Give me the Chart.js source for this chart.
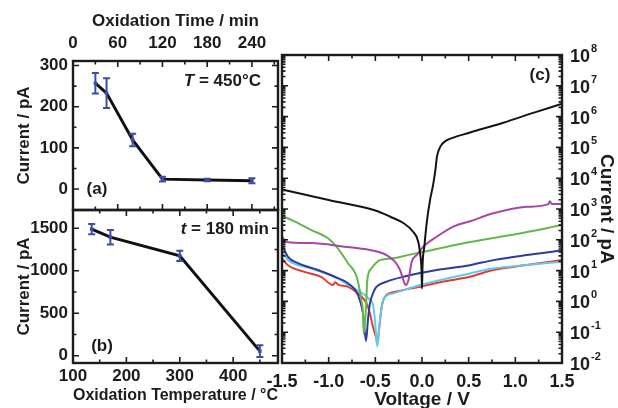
<!DOCTYPE html>
<html>
<head>
<meta charset="utf-8">
<script src="https://cdn.jsdelivr.net/npm/chart.js@4.4.1/dist/chart.umd.min.js"></script>
<style>
  html, body { margin: 0; padding: 0; background: #fff; }
  #wrap { position: relative; width: 618px; height: 408px; overflow: hidden; }
  #wrap canvas { position: absolute; left: 0; top: 0; }
</style>
</head>
<body>
<div id="wrap">
  <canvas id="chartA" width="618" height="408"></canvas>
  <canvas id="chartB" width="618" height="408"></canvas>
  <canvas id="chartC" width="618" height="408"></canvas>
</div>
<script>
// panel (a): current vs oxidation time, T = 450 °C
const timeMin = [30, 45, 80, 120, 180, 240];
const currentA = [257, 233, 119, 24, 22, 20];
const errA = [25, 36, 15, 6, 3, 6];
const timeTicks = [0, 60, 120, 180, 240];
const currentATicks = [0, 100, 200, 300];

// panel (b): current vs oxidation temperature, t = 180 min
const tempC = [135, 170, 300, 450];
const currentB = [1490, 1395, 1175, 55];
const errB = [60, 85, 60, 70];
const tempTicks = [100, 200, 300, 400];
const currentBTicks = [0, 500, 1000, 1500];

// panel (c): I-V curves, current in pA (log scale)
const voltTicks = [-1.5, -1.0, -0.5, 0.0, 0.5, 1.0, 1.5];
const powerTicks = [-2, -1, 0, 1, 2, 3, 4, 5, 6, 7, 8];

const vBlack = [-1.5, -1.0, -0.5, -0.34, -0.2, -0.1, -0.04, -0.02, -0.006, 0.0, 0.006, 0.025, 0.05, 0.086, 0.12, 0.145, 0.16, 0.2, 0.25, 0.32, 0.5, 0.87, 1.2, 1.5];
const iBlack = [4300, 1950, 890, 560, 350, 190, 87, 36, 12, 2.6, 15, 60, 350, 1950, 6300, 2.0e4, 5.0e4, 1.1e5, 1.6e5, 2.0e5, 2.95e5, 6.3e5, 1.35e6, 2.6e6];

const vMagenta = [-1.5, -1.45, -1.19, -0.83, -0.557, -0.47, -0.38, -0.29, -0.236, -0.2, -0.175, -0.146, -0.11, -0.057, 0.014, 0.157, 0.336, 0.514, 0.764, 1.12, 1.35, 1.37, 1.39, 1.5];
const iMagenta = [126, 85, 78, 60, 47, 41, 32, 19.5, 10.5, 4.9, 3.4, 4.9, 19.5, 32, 60, 126, 269, 398, 724, 1175, 1410, 1780, 1445, 1445];

const vGreen = [-1.5, -1.36, -1.19, -1.007, -0.9, -0.793, -0.7, -0.65, -0.632, -0.625, -0.6, -0.586, -0.543, -0.45, -0.307, -0.129, 0.0, 0.5, 1.0, 1.5];
const iGreen = [600, 390, 210, 112, 52, 17.4, 6.3, 1.12, 0.41, 0.089, 0.63, 4.9, 11.7, 21.9, 25, 33, 40, 83, 151, 300];

const vBlue = [-1.5, -1.436, -1.33, -1.114, -0.936, -0.793, -0.686, -0.632, -0.6, -0.579, -0.56, -0.52, -0.486, -0.379, -0.2, 0.157, 0.514, 0.764, 1.12, 1.5];
const iBlue = [68, 28, 17.4, 10.5, 6.3, 3.9, 1.62, 0.41, 0.052, 0.25, 0.79, 2.0, 3.0, 4.4, 6.3, 10.5, 15, 21.9, 32, 45];

const vCyan = [-1.5, -1.436, -1.19, -0.936, -0.757, -0.614, -0.557, -0.525, -0.504, -0.479, -0.45, -0.415, -0.307, -0.021, 0.514, 0.764, 1.12, 1.5];
const iCyan = [41, 22, 11.7, 6.3, 3.0, 1.62, 1.12, 0.79, 0.25, 0.034, 0.25, 1.12, 1.82, 3.4, 8.1, 11.7, 15.1, 19.5];

const vRed = [-1.5, -1.436, -1.26, -1.08, -0.954, -0.93, -0.9, -0.793, -0.686, -0.579, -0.525, -0.49, -0.479, -0.46, -0.432, -0.396, -0.271, -0.021, 0.229, 0.514, 0.764, 1.12, 1.5];
const iRed = [25, 15, 9.1, 6.3, 3.4, 4.2, 3.5, 3.0, 1.8, 0.68, 0.15, 0.063, 0.044, 0.126, 0.68, 1.41, 2.1, 3.0, 4.4, 6.3, 10.5, 15.1, 21.9];

const FONT = "'Liberation Sans', Arial, Helvetica, sans-serif";
const INK = '#1c1c1c';
const BAR_BLUE = '#3a4ea8';

Chart.defaults.font.family = FONT;
Chart.defaults.font.weight = 'bold';
Chart.defaults.font.size = 17;
Chart.defaults.color = INK;

const pts = (xs, ys) => xs.map((x, i) => ({ x: x, y: ys[i] }));
const fixTicks = arr => scale => { scale.ticks = arr.map(v => ({ value: v })); };
const noGrid = { display: false, drawTicks: false };

// box around the plot area with inward tick marks on all four sides
function frame(xId, yId, t) {
  return {
    id: 'frame',
    afterDatasetsDraw(chart) {
      const { ctx, chartArea: a } = chart;
      const xs = chart.scales[xId], ys = chart.scales[yId];
      ctx.save();
      ctx.strokeStyle = INK;
      ctx.lineWidth = 1.6;
      ctx.beginPath();
      const xt = (vals, len) => vals.forEach(v => {
        const p = xs.getPixelForValue(v);
        ctx.moveTo(p, a.top); ctx.lineTo(p, a.top + len);
        ctx.moveTo(p, a.bottom); ctx.lineTo(p, a.bottom - len);
      });
      const yt = (vals, len) => vals.forEach(v => {
        const p = ys.getPixelForValue(v);
        ctx.moveTo(a.left, p); ctx.lineTo(a.left + len, p);
        ctx.moveTo(a.right, p); ctx.lineTo(a.right - len, p);
      });
      xt(t.xMajor, 6); xt(t.xMinor, 3.5);
      yt(t.yMajor, 6); yt(t.yMinor, 3.5);
      ctx.stroke();
      ctx.lineWidth = 2.4;
      ctx.strokeRect(a.left, a.top, a.right - a.left, a.bottom - a.top);
      ctx.restore();
    }
  };
}

function errorBars(xId, yId, xs, ys, errs) {
  return {
    id: 'errorBars',
    afterDatasetsDraw(chart) {
      const ctx = chart.ctx;
      const sx = chart.scales[xId], sy = chart.scales[yId];
      ctx.save();
      ctx.strokeStyle = BAR_BLUE;
      ctx.lineWidth = 2;
      ctx.beginPath();
      xs.forEach((x, i) => {
        const px = sx.getPixelForValue(x);
        const top = sy.getPixelForValue(ys[i] + errs[i]);
        const bot = sy.getPixelForValue(ys[i] - errs[i]);
        ctx.moveTo(px, top); ctx.lineTo(px, bot);
        ctx.moveTo(px - 3.5, top); ctx.lineTo(px + 3.5, top);
        ctx.moveTo(px - 3.5, bot); ctx.lineTo(px + 3.5, bot);
      });
      ctx.stroke();
      ctx.restore();
    }
  };
}

// small text notes inside a panel, items = [{x, y, align, parts:[{text, italic}]}]
function notes(items) {
  return {
    id: 'notes',
    afterDraw(chart) {
      const ctx = chart.ctx;
      ctx.save();
      ctx.fillStyle = INK;
      ctx.textBaseline = 'middle';
      ctx.textAlign = 'left';
      items.forEach(it => {
        const fontOf = p => (p.italic ? 'italic ' : '') + 'bold 17px ' + FONT;
        let total = 0;
        it.parts.forEach(p => { ctx.font = fontOf(p); total += ctx.measureText(p.text).width; });
        let x = it.align === 'right' ? it.x - total : it.x - total / 2;
        it.parts.forEach(p => {
          ctx.font = fontOf(p);
          ctx.fillText(p.text, x, it.y);
          x += ctx.measureText(p.text).width;
        });
      });
      ctx.restore();
    }
  };
}

// 10^n labels for the log axis
function powerLabels(yId, exps) {
  return {
    id: 'powerLabels',
    afterDraw(chart) {
      const { ctx, chartArea: a } = chart;
      const sy = chart.scales[yId];
      ctx.save();
      ctx.fillStyle = INK;
      ctx.textBaseline = 'middle';
      ctx.textAlign = 'left';
      exps.forEach(e => {
        const y = sy.getPixelForValue(Math.pow(10, e));
        const x0 = a.right + 8;
        ctx.font = 'bold 18px ' + FONT;
        ctx.fillText('10', x0, y + 2);
        const w = ctx.measureText('10').width;
        ctx.font = 'bold 11px ' + FONT;
        ctx.fillText(String(e), x0 + w + 1, y - 6);
      });
      ctx.restore();
    }
  };
}

const baseOptions = {
  responsive: false,
  animation: false,
  devicePixelRatio: 1,
  events: [],
  plugins: { legend: { display: false }, tooltip: { enabled: false } }
};

// ---- (a)
new Chart(document.getElementById('chartA'), {
  type: 'line',
  data: {
    datasets: [{
      data: pts(timeMin, currentA),
      borderColor: '#111',
      borderWidth: 3,
      pointStyle: 'rect',
      pointRadius: 2.5,
      pointBackgroundColor: BAR_BLUE,
      pointBorderWidth: 0,
      tension: 0
    }]
  },
  options: Object.assign({}, baseOptions, {
    layout: { padding: { left: 0, top: 0, right: 340, bottom: 198 } },
    scales: {
      x: {
        type: 'linear', position: 'top', min: 0, max: 275,
        afterBuildTicks: fixTicks(timeTicks),
        ticks: { padding: 7, autoSkip: false, maxRotation: 0, callback: v => String(v) },
        grid: noGrid, border: { display: false },
        title: { display: true, text: 'Oxidation Time / min', font: { size: 17, weight: 'bold' }, padding: { top: 11, bottom: 0 } },
        afterFit: s => { s.height = 61; }
      },
      y: {
        type: 'linear', position: 'left', min: -51, max: 311,
        afterBuildTicks: fixTicks(currentATicks),
        ticks: { padding: 5, autoSkip: false, callback: v => String(v) },
        grid: noGrid, border: { display: false },
        title: { display: true, text: 'Current / pA', font: { size: 17, weight: 'bold' }, padding: { top: 14, bottom: 0 } },
        afterFit: s => { s.width = 73; }
      }
    }
  }),
  plugins: [
    errorBars('x', 'y', timeMin, currentA, errA),
    frame('x', 'y', { xMajor: timeTicks, xMinor: [30, 90, 150, 210, 270], yMajor: currentATicks, yMinor: [50, 150, 250] }),
    notes([
      { x: 97, y: 189, align: 'center', parts: [{ text: '(a)' }] },
      { x: 261, y: 81, align: 'right', parts: [{ text: 'T', italic: true }, { text: ' = 450°C' }] }
    ])
  ]
});

// ---- (b)
new Chart(document.getElementById('chartB'), {
  type: 'line',
  data: {
    datasets: [{
      data: pts(tempC, currentB),
      borderColor: '#111',
      borderWidth: 3,
      pointStyle: 'rect',
      pointRadius: 2.5,
      pointBackgroundColor: BAR_BLUE,
      pointBorderWidth: 0,
      tension: 0
    }]
  },
  options: Object.assign({}, baseOptions, {
    layout: { padding: { left: 0, top: 210, right: 340, bottom: 0 } },
    scales: {
      x: {
        type: 'linear', position: 'bottom', min: 100, max: 484,
        afterBuildTicks: fixTicks(tempTicks),
        ticks: { padding: 3, autoSkip: false, maxRotation: 0, callback: v => String(v) },
        grid: noGrid, border: { display: false },
        title: { display: true, text: 'Oxidation Temperature / °C', font: { size: 17, weight: 'bold' }, padding: { top: 0, bottom: 2 } },
        afterFit: s => { s.height = 45; }
      },
      y: {
        type: 'linear', position: 'left', min: -85, max: 1715,
        afterBuildTicks: fixTicks(currentBTicks),
        ticks: { padding: 5, autoSkip: false, callback: v => String(v) },
        grid: noGrid, border: { display: false },
        title: { display: true, text: 'Current / pA', font: { size: 17, weight: 'bold' }, padding: { top: 14, bottom: 0 } },
        afterFit: s => { s.width = 73; }
      }
    }
  }),
  plugins: [
    errorBars('x', 'y', tempC, currentB, errB),
    frame('x', 'y', { xMajor: tempTicks, xMinor: [150, 250, 350, 450], yMajor: currentBTicks, yMinor: [250, 750, 1250] }),
    notes([
      { x: 102, y: 346, align: 'center', parts: [{ text: '(b)' }] },
      { x: 269, y: 229, align: 'right', parts: [{ text: 't', italic: true }, { text: ' = 180 min' }] }
    ])
  ]
});

// ---- (c)
const curves = [
  { v: vBlack, i: iBlack, color: '#141414' },
  { v: vMagenta, i: iMagenta, color: '#a447a8' },
  { v: vGreen, i: iGreen, color: '#62b84a' },
  { v: vBlue, i: iBlue, color: '#2e3b9e' },
  { v: vCyan, i: iCyan, color: '#5ecbea' },
  { v: vRed, i: iRed, color: '#e63a2e' }
];

const logMinor = [];
for (let e = -2; e < 8; e++) {
  for (let k = 2; k <= 9; k++) logMinor.push(k * Math.pow(10, e));
}

new Chart(document.getElementById('chartC'), {
  type: 'line',
  data: {
    datasets: curves.map(c => ({
      data: pts(c.v, c.i),
      borderColor: c.color,
      borderWidth: 2,
      pointRadius: 0,
      cubicInterpolationMode: 'monotone'
    }))
  },
  options: Object.assign({}, baseOptions, {
    layout: { padding: { left: 282, top: 55, right: 0, bottom: 0 } },
    scales: {
      x: {
        type: 'linear', position: 'bottom', min: -1.5, max: 1.5,
        afterBuildTicks: fixTicks(voltTicks),
        ticks: { padding: 8, autoSkip: false, maxRotation: 0, font: { size: 18, weight: 'bold' }, callback: v => v.toFixed(1) },
        grid: noGrid, border: { display: false },
        title: { display: true, text: 'Voltage / V', font: { size: 19, weight: 'bold' }, padding: { top: 0, bottom: -3 } },
        afterFit: s => { s.height = 45; }
      },
      y: {
        type: 'logarithmic', position: 'right', min: 1e-2, max: 1e8,
        afterBuildTicks: fixTicks(powerTicks.map(e => Math.pow(10, e))),
        ticks: { display: false },
        grid: noGrid, border: { display: false },
        title: { display: true, text: 'Current / pA', font: { size: 19, weight: 'bold' }, padding: { top: 0, bottom: 0 } },
        afterFit: s => { s.width = 56; }
      }
    }
  }),
  plugins: [
    frame('x', 'y', {
      xMajor: voltTicks,
      xMinor: [-1.25, -0.75, -0.25, 0.25, 0.75, 1.25],
      yMajor: powerTicks.map(e => Math.pow(10, e)),
      yMinor: logMinor
    }),
    powerLabels('y', powerTicks),
    notes([{ x: 540, y: 75, align: 'center', parts: [{ text: '(c)' }] }])
  ]
});
</script>
</body>
</html>
